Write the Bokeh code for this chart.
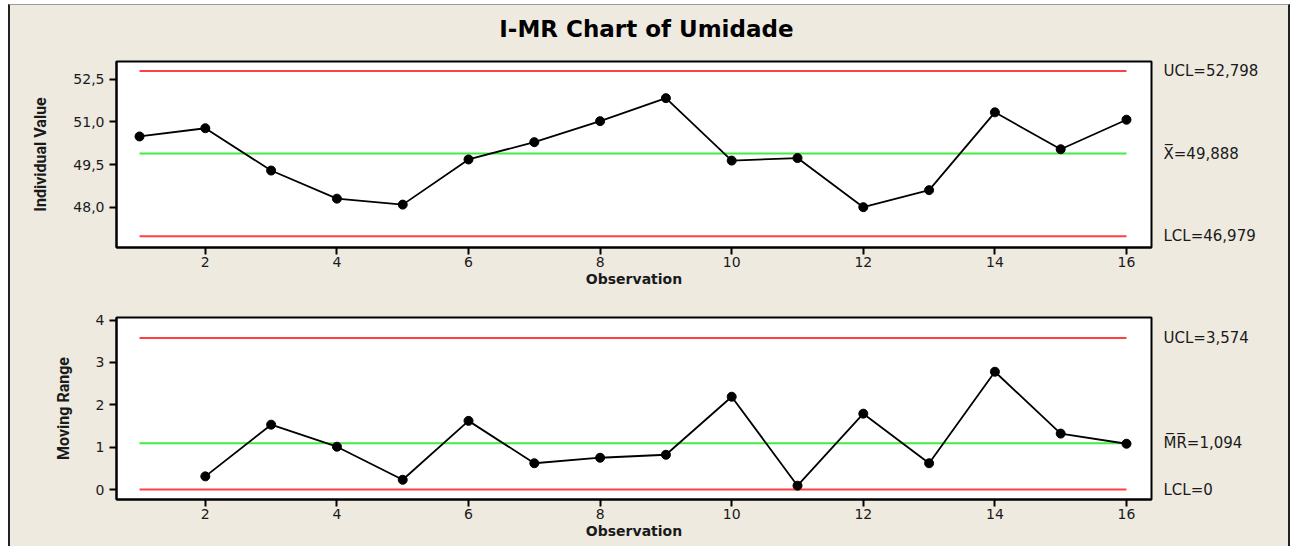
from bokeh.plotting import figure
from bokeh.layouts import column
from bokeh.models import FixedTicker, CustomJSTickFormatter, Range1d, LinearAxis
from bokeh.core.properties import value
from bokeh.embed import file_html
from bokeh.resources import INLINE

# ---- data ----
observations = list(range(1, 17))
individual_values = [50.49, 50.78, 49.29, 48.30, 48.09, 49.68, 50.29, 51.03,
                     51.84, 49.64, 49.73, 48.00, 48.60, 51.34, 50.04, 51.08]
mr_observations = list(range(2, 17))
moving_ranges = [0.31, 1.53, 1.01, 0.23, 1.62, 0.62, 0.75, 0.82,
                 2.19, 0.09, 1.79, 0.62, 2.78, 1.32, 1.08]
i_limits = [52.798, 49.888, 46.979]          # UCL, centre, LCL
mr_limits = [3.574, 1.094, 0.0]              # UCL, centre, LCL
i_limit_texts = ["UCL=52,798", "X\u0305=49,888", "LCL=46,979"]
mr_limit_texts = ["UCL=3,574", "M\u0305R\u0305=1,094", "LCL=0"]
x_ticks = [2, 4, 6, 8, 10, 12, 14, 16]
i_ticks = [48.0, 49.5, 51.0, 52.5]
mr_ticks = [0, 1, 2, 3, 4]
title_text = "I-MR Chart of Umidade"
x_label = "Observation"
i_ylabel = "Individual Value"
mr_ylabel = "Moving Range"

BG = "#EEEAE0"
RED = "#FF4040"
GREEN = "#40EE40"
TXT = "#1a1a1a"
X_RANGE = (0.65, 16.38)
FIG_W = 1278


def make_fig(height, y_range, top, bottom, yticks, ylabel, one_decimal):
    p = figure(width=FIG_W, height=height,
               x_range=Range1d(*X_RANGE), y_range=Range1d(*y_range),
               output_backend="svg", toolbar_location=None,
               min_border_left=106, min_border_right=137,
               min_border_top=top, min_border_bottom=bottom,
               background_fill_color="white", border_fill_color=BG)
    p.grid.visible = False
    p.outline_line_color = "black"
    p.outline_line_width = 2
    for ax in (p.xaxis[0], p.yaxis[0]):
        ax.axis_line_color = "black"
        ax.axis_line_width = 2
        ax.major_tick_line_color = "black"
        ax.major_tick_line_width = 2
        ax.major_tick_out = 7
        ax.major_tick_in = 0
        ax.minor_tick_line_color = None
        ax.major_label_text_font = "DejaVu Sans"
        ax.major_label_text_font_size = "14px"
        ax.major_label_text_color = TXT
    p.xaxis.ticker = FixedTicker(ticks=x_ticks)
    p.xaxis.major_label_standoff = 2
    p.xaxis.axis_label = x_label
    p.xaxis.axis_label_text_font = "DejaVu Sans"
    p.xaxis.axis_label_text_font_style = "bold"
    p.xaxis.axis_label_text_font_size = "14px"
    p.xaxis.axis_label_text_color = TXT
    p.xaxis.axis_label_standoff = 1
    p.yaxis.ticker = FixedTicker(ticks=yticks)
    p.yaxis.major_label_standoff = 5
    if one_decimal:
        p.yaxis.formatter = CustomJSTickFormatter(
            code="return tick.toFixed(1).replace('.', ',');")
    p.yaxis.axis_label = ylabel
    p.yaxis.axis_label_text_font = "Roboto"
    p.yaxis.axis_label_text_font_style = "bold"
    p.yaxis.axis_label_text_font_size = "16px"
    p.yaxis.axis_label_text_color = TXT
    p.yaxis.axis_label_standoff = 20
    return p


def add_series(p, xs, ys, limits, texts):
    n = len(limits)
    p.segment(x0=[observations[0]] * n, x1=[observations[-1]] * n,
              y0=limits, y1=limits, line_color=[RED, GREEN, RED], line_width=2)
    p.line(xs, ys, line_color="black", line_width=1.8)
    p.scatter(xs, ys, size=9, fill_color="black", line_color="black")
    fmt = CustomJSTickFormatter(args=dict(vals=limits, labels=texts), code="""
        let best = 0, d = Infinity;
        for (let i = 0; i < vals.length; i++) {
            const dd = Math.abs(vals[i] - tick);
            if (dd < d) { d = dd; best = i; }
        }
        return labels[best];
    """)
    rax = LinearAxis(ticker=FixedTicker(ticks=limits), formatter=fmt)
    rax.axis_line_color = None
    rax.major_tick_line_color = None
    rax.minor_tick_line_color = None
    rax.major_tick_out = 0
    rax.major_tick_in = 0
    rax.major_label_standoff = 12
    rax.major_label_text_font = "DejaVu Sans"
    rax.major_label_text_font_size = "15px"
    rax.major_label_text_color = TXT
    p.add_layout(rax, "right")


# title strip
pt = figure(width=FIG_W, height=48, x_range=Range1d(0, 1), y_range=Range1d(0, 1),
            output_backend="svg", toolbar_location=None, min_border=0,
            background_fill_color=BG, border_fill_color=BG)
pt.axis.visible = False
pt.grid.visible = False
pt.outline_line_color = None
pt.text(x=[0.512], y=[0.52], text=[title_text], text_align="center",
        text_baseline="middle", text_font=value("DejaVu Sans"),
        text_font_style="bold", text_font_size="23px", text_color="black")

p1 = make_fig(243, (46.58, 53.13), 8, 49, i_ticks, i_ylabel, True)
add_series(p1, observations, individual_values, i_limits, i_limit_texts)

p2 = make_fig(250, (-0.236, 4.06), 21, 47, mr_ticks, mr_ylabel, False)
add_series(p2, mr_observations, moving_ranges, mr_limits, mr_limit_texts)

layout = column(pt, p1, p2, spacing=0,
                styles={"margin-left": "8px", "margin-top": "4px",
                        "border-top": "1px solid #9a9a9a",
                        "border-left": "2px solid #222",
                        "border-right": "2px solid #222",
                        "background-color": BG})
open("out.html", "w").write(file_html(layout, INLINE))
